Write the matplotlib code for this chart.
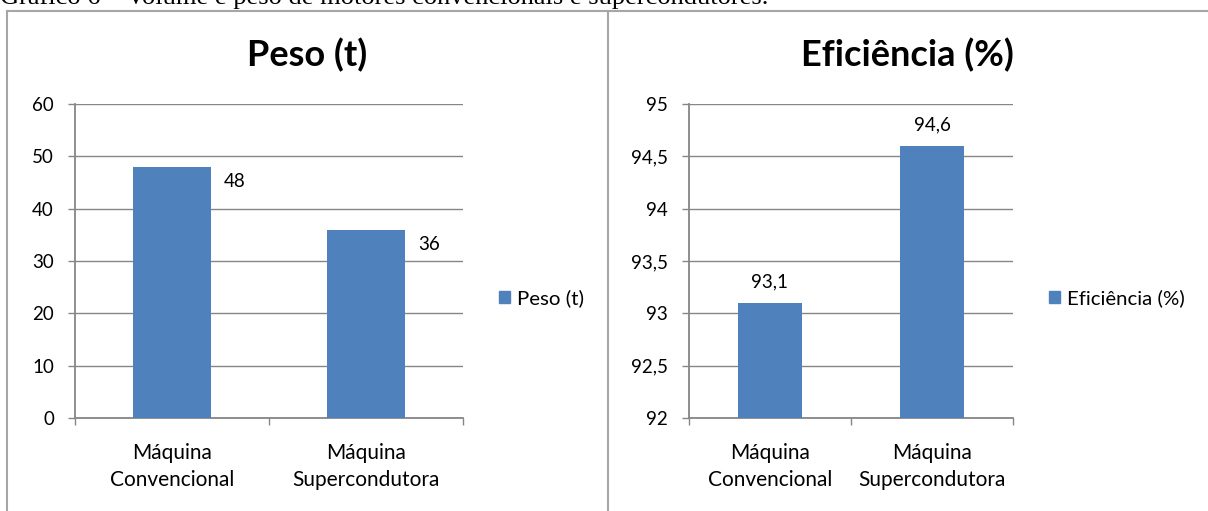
import matplotlib
matplotlib.use("Agg")
import matplotlib.pyplot as plt
from matplotlib.patches import Patch
from matplotlib.lines import Line2D
from matplotlib.ticker import FuncFormatter

# ---- data -------------------------------------------------------------
categories = ["Máquina\nConvencional", "Máquina\nSupercondutora"]
peso = [48, 36]
eficiencia = [93.1, 94.6]
peso_ticks = [0, 10, 20, 30, 40, 50, 60]
efic_ticks = [92, 92.5, 93, 93.5, 94, 94.5, 95]
caption = "Gráfico 6 – Volume e peso de motores convencionais e supercondutores."

# ---- style ------------------------------------------------------------
BAR = "#4F81BD"
AXIS = "#868686"
FRAME = "#A6A6A6"
FONT = "Lato"
YLBL = 13.5
XLBL = 15
VLBL = 13.5
LEG = 14.7
TITLE = 26
W, H = 1208, 511
PX = 72 / 100  # points per pixel at dpi=100

fig = plt.figure(figsize=(W / 100, H / 100), dpi=100)


def fx(px):
    return px / W


def fy(py):
    return 1 - py / H


def rect(x0, y0, x1, y1):
    return [fx(x0), fy(y1), (x1 - x0) / W, (y1 - y0) / H]


def comma(v, _=None):
    return f"{v:g}".replace(".", ",")


def panel(r, values, ticks, title, title_x, legend_label, legend_x, side_labels):
    ax = fig.add_axes(rect(*r))
    x = list(range(len(values)))
    ax.bar(x, values, width=0.4, color=BAR, zorder=3)
    ax.set_xlim(-0.5, len(values) - 0.5)
    ax.set_ylim(ticks[0], ticks[-1])
    ax.set_yticks(ticks)
    ax.yaxis.set_major_formatter(FuncFormatter(comma))
    ax.yaxis.grid(True, color=AXIS, lw=1.0, zorder=0)
    ax.set_axisbelow(True)
    for s in ("top", "right"):
        ax.spines[s].set_visible(False)
    for s in ("left", "bottom"):
        ax.spines[s].set_color(AXIS)
        ax.spines[s].set_linewidth(1.3)
    ax.tick_params(axis="y", length=7 * PX, width=1.0, color=AXIS, pad=14 * PX,
                   labelsize=YLBL, labelfontfamily=FONT)
    ax.set_xticks(x)
    ax.set_xticklabels(categories, fontfamily=FONT, fontsize=XLBL, linespacing=1.42)
    ax.tick_params(axis="x", which="major", length=0, pad=25 * PX)
    ax.set_xticks([i - 0.5 for i in range(len(values) + 1)], minor=True)
    ax.tick_params(axis="x", which="minor", length=7 * PX, width=1.0, color=AXIS)

    for i, v in enumerate(values):
        if side_labels:
            ax.annotate(comma(v), xy=(i + 0.2, v), xytext=(24 * PX, -15 * PX),
                        textcoords="offset points", ha="center", va="center",
                        fontfamily=FONT, fontsize=VLBL)
        else:
            ax.annotate(comma(v), xy=(i, v), xytext=(0, 21 * PX),
                        textcoords="offset points", ha="center", va="center",
                        fontfamily=FONT, fontsize=VLBL)

    fig.text(fx(title_x), fy(55), title, ha="center", va="center",
             fontfamily=FONT, fontweight="bold", fontsize=TITLE)

    ax.legend(handles=[Patch(color=BAR, label=legend_label)], loc="center left",
              bbox_to_anchor=(fx(legend_x), fy(298)), bbox_transform=fig.transFigure,
              frameon=False, handlelength=0.55, handleheight=0.55, handletextpad=0.35,
              borderpad=0, borderaxespad=0,
              prop={"family": FONT, "size": LEG})
    return ax


panel((75, 104, 463, 418), peso, peso_ticks, "Peso (t)", 307, "Peso (t)", 499, True)
panel((689, 104, 1013, 418), eficiencia, efic_ticks, "Eficiência (%)", 907,
      "Eficiência (%)", 1049, False)

# panel frames
for xs, ys in (((7, W), (11, 11)), ((7, 7), (11, H)), ((608, 608), (11, H))):
    fig.add_artist(Line2D([fx(v) for v in xs], [fy(v) for v in ys],
                          color=FRAME, lw=1.5, transform=fig.transFigure))

fig.text(0, fy(4), caption, ha="left", va="baseline",
         fontfamily="Liberation Serif", fontsize=19)

fig.savefig("out.png", dpi=100)
